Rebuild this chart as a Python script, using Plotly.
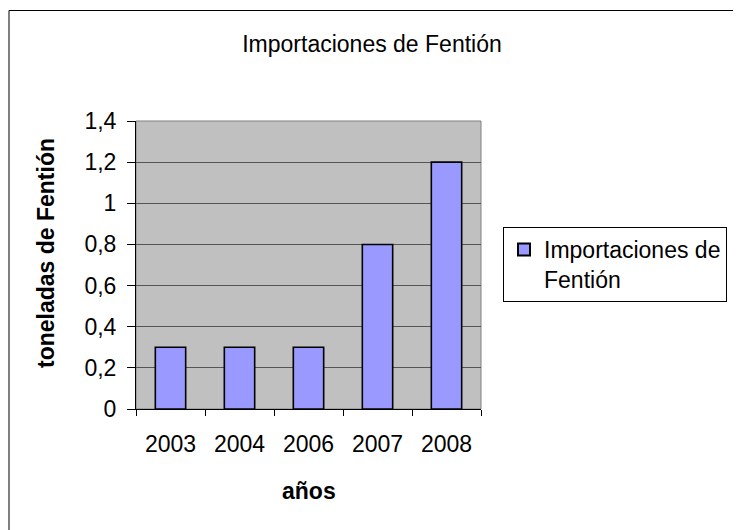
import plotly.graph_objects as go

years = ["2003", "2004", "2006", "2007", "2008"]
values = [0.3, 0.3, 0.3, 0.8, 1.2]
series_name = "Importaciones de<br>Fentión"
title_text = "Importaciones de Fentión"
y_title = "toneladas de Fentión"
x_title = "años"

W, H = 741, 530
OFF = 8  # default body margin of the html page
# plot area in page pixels
L, R, T, B = 136, 481, 121, 409
pw, ph = R - L, B - T

def px(x):
    return (x - L) / pw

def py(y):
    return (B - y) / ph

FONT = "Liberation Sans, Arial, sans-serif"
FS = 23

fig = go.Figure()
fig.add_trace(go.Bar(
    x=years, y=values, name=series_name,
    marker=dict(color="#9999FF", line=dict(color="black", width=1.6)),
    showlegend=True,
))

fig.update_layout(
    width=W, height=H,
    margin=dict(l=L - OFF, r=W - (R - OFF), t=T - OFF, b=H - (B - OFF), pad=0),
    paper_bgcolor="white",
    plot_bgcolor="#C0C0C0",
    separators=",.",
    font=dict(family=FONT, size=FS, color="black"),
    bargap=0.56,
    title=dict(text=title_text, x=(372 - OFF) / W, xref="container", xanchor="center",
               y=1 - (44 - OFF) / H, yref="container", yanchor="middle",
               font=dict(family=FONT, size=FS, color="black")),
    showlegend=True,
    legend=dict(
        x=px(503), y=py(227), xanchor="left", yanchor="top",
        bordercolor="black", borderwidth=1, bgcolor="white",
        font=dict(family=FONT, size=FS, color="black"),
        itemsizing="constant", valign="top",
    ),
    xaxis=dict(
        type="category", tickson="boundaries", ticks="outside", ticklen=6,
        tickcolor="black", showline=True, linecolor="black", linewidth=1,
        showgrid=False, ticklabelstandoff=14,
        tickfont=dict(family=FONT, size=FS, color="black"),
    ),
    yaxis=dict(
        range=[0, 1.4], dtick=0.2, tick0=0, ticks="outside", ticklen=8,
        tickcolor="black", showline=True, linecolor="black", linewidth=1,
        showgrid=True, gridcolor="#555555", gridwidth=1, zeroline=False,
        ticklabelstandoff=6,
        tickfont=dict(family=FONT, size=FS, color="black"),
    ),
    shapes=[
        dict(type="rect", xref="paper", yref="paper", x0=0, x1=1, y0=0, y1=1,
             line=dict(color="#808080", width=1), fillcolor="rgba(0,0,0,0)", layer="below"),
        dict(type="rect", xref="paper", yref="paper",
             x0=px(OFF + 1), x1=px(760), y0=py(545), y1=py(10.5),
             line=dict(color="black", width=1), fillcolor="rgba(0,0,0,0)", layer="above"),
    ],
    annotations=[
        dict(text="<b>" + y_title + "</b>", xref="paper", yref="paper",
             x=px(46), y=py(253), xanchor="center", yanchor="middle",
             textangle=-90, showarrow=False,
             font=dict(family=FONT, size=FS, color="black")),
        dict(text="<b>" + x_title + "</b>", xref="paper", yref="paper",
             x=px(309), y=py(491), xanchor="center", yanchor="middle",
             showarrow=False, font=dict(family=FONT, size=FS, color="black")),
    ],
)

fig.write_html("out.html")
